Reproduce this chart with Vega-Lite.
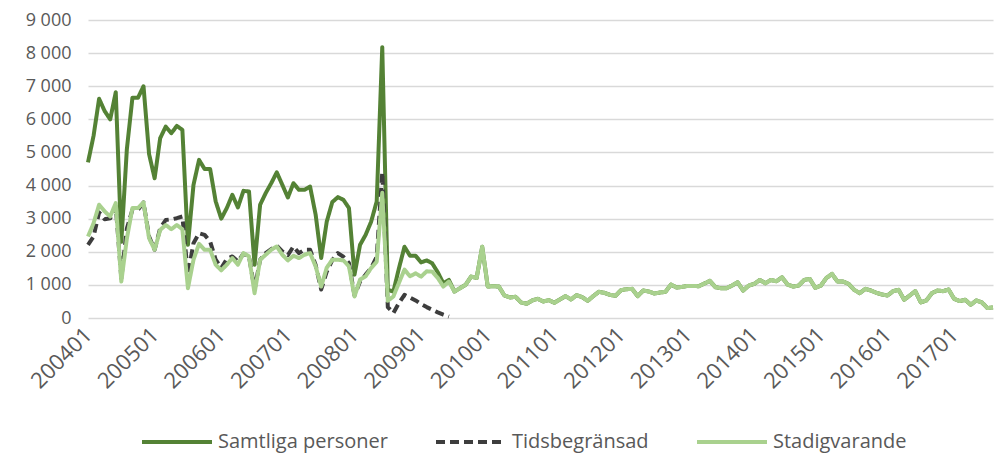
{
  "$schema": "https://vega.github.io/schema/vega-lite/v6.json",
  "width": 905,
  "height": 298,
  "autosize": "none",
  "padding": {"left": 88, "top": 20, "right": 1, "bottom": 138},
  "config": {
    "locale": {"number": {"decimal": ",", "thousands": " ", "grouping": [3], "currency": ["", " kr"]}},
    "view": {"stroke": null},
    "font": "Open Sans"
  },
  "datasets": {
    "wide": [
      {"m":"200401","Samtliga personer":4700,"Tidsbegränsad":2210,"Stadigvarande":2460},
      {"m":"200402","Samtliga personer":5500,"Tidsbegränsad":2460,"Stadigvarande":2860},
      {"m":"200403","Samtliga personer":6620,"Tidsbegränsad":3190,"Stadigvarande":3420},
      {"m":"200404","Samtliga personer":6250,"Tidsbegränsad":2980,"Stadigvarande":3220},
      {"m":"200405","Samtliga personer":6000,"Tidsbegränsad":3010,"Stadigvarande":3065},
      {"m":"200406","Samtliga personer":6820,"Tidsbegränsad":3370,"Stadigvarande":3470},
      {"m":"200407","Samtliga personer":2300,"Tidsbegränsad":1200,"Stadigvarande":1100},
      {"m":"200408","Samtliga personer":5100,"Tidsbegränsad":2700,"Stadigvarande":2400},
      {"m":"200409","Samtliga personer":6650,"Tidsbegränsad":3270,"Stadigvarande":3320},
      {"m":"200410","Samtliga personer":6650,"Tidsbegränsad":3270,"Stadigvarande":3320},
      {"m":"200411","Samtliga personer":7000,"Tidsbegränsad":3490,"Stadigvarande":3490},
      {"m":"200412","Samtliga personer":4950,"Tidsbegränsad":2460,"Stadigvarande":2410},
      {"m":"200501","Samtliga personer":4220,"Tidsbegränsad":2060,"Stadigvarande":2060},
      {"m":"200502","Samtliga personer":5430,"Tidsbegränsad":2710,"Stadigvarande":2660},
      {"m":"200503","Samtliga personer":5780,"Tidsbegränsad":2960,"Stadigvarande":2810},
      {"m":"200504","Samtliga personer":5580,"Tidsbegränsad":2980,"Stadigvarande":2680},
      {"m":"200505","Samtliga personer":5800,"Tidsbegränsad":3015,"Stadigvarande":2810},
      {"m":"200506","Samtliga personer":5680,"Tidsbegränsad":3065,"Stadigvarande":2680},
      {"m":"200507","Samtliga personer":2210,"Tidsbegränsad":1310,"Stadigvarande":900},
      {"m":"200508","Samtliga personer":4020,"Tidsbegränsad":2260,"Stadigvarande":1760},
      {"m":"200509","Samtliga personer":4775,"Tidsbegränsad":2560,"Stadigvarande":2240},
      {"m":"200510","Samtliga personer":4500,"Tidsbegränsad":2510,"Stadigvarande":2060},
      {"m":"200511","Samtliga personer":4500,"Tidsbegränsad":2310,"Stadigvarande":2060},
      {"m":"200512","Samtliga personer":3520,"Tidsbegränsad":1760,"Stadigvarande":1610},
      {"m":"200601","Samtliga personer":3000,"Tidsbegränsad":1510,"Stadigvarande":1440},
      {"m":"200602","Samtliga personer":3320,"Tidsbegränsad":1780,"Stadigvarande":1610},
      {"m":"200603","Samtliga personer":3720,"Tidsbegränsad":1860,"Stadigvarande":1810},
      {"m":"200604","Samtliga personer":3340,"Tidsbegränsad":1710,"Stadigvarande":1610},
      {"m":"200605","Samtliga personer":3840,"Tidsbegränsad":1940,"Stadigvarande":1960},
      {"m":"200606","Samtliga personer":3820,"Tidsbegränsad":1860,"Stadigvarande":1860},
      {"m":"200607","Samtliga personer":1610,"Tidsbegränsad":860,"Stadigvarande":750},
      {"m":"200608","Samtliga personer":3420,"Tidsbegränsad":1760,"Stadigvarande":1760},
      {"m":"200609","Samtliga personer":3770,"Tidsbegränsad":1960,"Stadigvarande":1910},
      {"m":"200610","Samtliga personer":4070,"Tidsbegränsad":2080,"Stadigvarande":2060},
      {"m":"200611","Samtliga personer":4400,"Tidsbegränsad":2180,"Stadigvarande":2160},
      {"m":"200612","Samtliga personer":4020,"Tidsbegränsad":2010,"Stadigvarande":1910},
      {"m":"200701","Samtliga personer":3640,"Tidsbegränsad":1900,"Stadigvarande":1740},
      {"m":"200702","Samtliga personer":4070,"Tidsbegränsad":2160,"Stadigvarande":1880},
      {"m":"200703","Samtliga personer":3870,"Tidsbegränsad":1960,"Stadigvarande":1810},
      {"m":"200704","Samtliga personer":3870,"Tidsbegränsad":2060,"Stadigvarande":1910},
      {"m":"200705","Samtliga personer":3970,"Tidsbegränsad":2060,"Stadigvarande":1960},
      {"m":"200706","Samtliga personer":3120,"Tidsbegränsad":1600,"Stadigvarande":1560},
      {"m":"200707","Samtliga personer":1810,"Tidsbegränsad":860,"Stadigvarande":950},
      {"m":"200708","Samtliga personer":2910,"Tidsbegränsad":1400,"Stadigvarande":1520},
      {"m":"200709","Samtliga personer":3500,"Tidsbegränsad":1750,"Stadigvarande":1760},
      {"m":"200710","Samtliga personer":3650,"Tidsbegränsad":1960,"Stadigvarande":1760},
      {"m":"200711","Samtliga personer":3570,"Tidsbegränsad":1850,"Stadigvarande":1740},
      {"m":"200712","Samtliga personer":3320,"Tidsbegränsad":1660,"Stadigvarande":1560},
      {"m":"200801","Samtliga personer":1310,"Tidsbegränsad":680,"Stadigvarande":650},
      {"m":"200802","Samtliga personer":2210,"Tidsbegränsad":1100,"Stadigvarande":1160},
      {"m":"200803","Samtliga personer":2510,"Tidsbegränsad":1310,"Stadigvarande":1260},
      {"m":"200804","Samtliga personer":2910,"Tidsbegränsad":1510,"Stadigvarande":1510},
      {"m":"200805","Samtliga personer":3520,"Tidsbegränsad":1850,"Stadigvarande":1700},
      {"m":"200806","Samtliga personer":8180,"Tidsbegränsad":4400,"Stadigvarande":3780},
      {"m":"200807","Samtliga personer":850,"Tidsbegränsad":330,"Stadigvarande":520},
      {"m":"200808","Samtliga personer":800,"Tidsbegränsad":150,"Stadigvarande":650},
      {"m":"200809","Samtliga personer":1500,"Tidsbegränsad":450,"Stadigvarande":1060},
      {"m":"200810","Samtliga personer":2150,"Tidsbegränsad":700,"Stadigvarande":1460},
      {"m":"200811","Samtliga personer":1880,"Tidsbegränsad":620,"Stadigvarande":1260},
      {"m":"200812","Samtliga personer":1880,"Tidsbegränsad":530,"Stadigvarande":1350},
      {"m":"200901","Samtliga personer":1680,"Tidsbegränsad":420,"Stadigvarande":1250},
      {"m":"200902","Samtliga personer":1740,"Tidsbegränsad":330,"Stadigvarande":1410},
      {"m":"200903","Samtliga personer":1650,"Tidsbegränsad":250,"Stadigvarande":1400},
      {"m":"200904","Samtliga personer":1380,"Tidsbegränsad":170,"Stadigvarande":1210},
      {"m":"200905","Samtliga personer":1050,"Tidsbegränsad":100,"Stadigvarande":950},
      {"m":"200906","Samtliga personer":1150,"Tidsbegränsad":40,"Stadigvarande":1100},
      {"m":"200907","Samtliga personer":800,"Tidsbegränsad":null,"Stadigvarande":800},
      {"m":"200908","Samtliga personer":900,"Tidsbegränsad":null,"Stadigvarande":900},
      {"m":"200909","Samtliga personer":1000,"Tidsbegränsad":null,"Stadigvarande":1000},
      {"m":"200910","Samtliga personer":1250,"Tidsbegränsad":null,"Stadigvarande":1250},
      {"m":"200911","Samtliga personer":1210,"Tidsbegränsad":null,"Stadigvarande":1210},
      {"m":"200912","Samtliga personer":2150,"Tidsbegränsad":null,"Stadigvarande":2150},
      {"m":"201001","Samtliga personer":950,"Tidsbegränsad":null,"Stadigvarande":950},
      {"m":"201002","Samtliga personer":960,"Tidsbegränsad":null,"Stadigvarande":960},
      {"m":"201003","Samtliga personer":950,"Tidsbegränsad":null,"Stadigvarande":950},
      {"m":"201004","Samtliga personer":680,"Tidsbegränsad":null,"Stadigvarande":680},
      {"m":"201005","Samtliga personer":620,"Tidsbegränsad":null,"Stadigvarande":620},
      {"m":"201006","Samtliga personer":640,"Tidsbegränsad":null,"Stadigvarande":640},
      {"m":"201007","Samtliga personer":470,"Tidsbegränsad":null,"Stadigvarande":470},
      {"m":"201008","Samtliga personer":430,"Tidsbegränsad":null,"Stadigvarande":430},
      {"m":"201009","Samtliga personer":530,"Tidsbegränsad":null,"Stadigvarande":530},
      {"m":"201010","Samtliga personer":580,"Tidsbegränsad":null,"Stadigvarande":580},
      {"m":"201011","Samtliga personer":500,"Tidsbegränsad":null,"Stadigvarande":500},
      {"m":"201012","Samtliga personer":540,"Tidsbegränsad":null,"Stadigvarande":540},
      {"m":"201101","Samtliga personer":460,"Tidsbegränsad":null,"Stadigvarande":460},
      {"m":"201102","Samtliga personer":560,"Tidsbegränsad":null,"Stadigvarande":560},
      {"m":"201103","Samtliga personer":660,"Tidsbegränsad":null,"Stadigvarande":660},
      {"m":"201104","Samtliga personer":560,"Tidsbegränsad":null,"Stadigvarande":560},
      {"m":"201105","Samtliga personer":690,"Tidsbegränsad":null,"Stadigvarande":690},
      {"m":"201106","Samtliga personer":630,"Tidsbegränsad":null,"Stadigvarande":630},
      {"m":"201107","Samtliga personer":520,"Tidsbegränsad":null,"Stadigvarande":520},
      {"m":"201108","Samtliga personer":660,"Tidsbegränsad":null,"Stadigvarande":660},
      {"m":"201109","Samtliga personer":790,"Tidsbegränsad":null,"Stadigvarande":790},
      {"m":"201110","Samtliga personer":760,"Tidsbegränsad":null,"Stadigvarande":760},
      {"m":"201111","Samtliga personer":700,"Tidsbegränsad":null,"Stadigvarande":700},
      {"m":"201112","Samtliga personer":670,"Tidsbegränsad":null,"Stadigvarande":670},
      {"m":"201201","Samtliga personer":840,"Tidsbegränsad":null,"Stadigvarande":840},
      {"m":"201202","Samtliga personer":870,"Tidsbegränsad":null,"Stadigvarande":870},
      {"m":"201203","Samtliga personer":880,"Tidsbegränsad":null,"Stadigvarande":880},
      {"m":"201204","Samtliga personer":660,"Tidsbegränsad":null,"Stadigvarande":660},
      {"m":"201205","Samtliga personer":830,"Tidsbegränsad":null,"Stadigvarande":830},
      {"m":"201206","Samtliga personer":800,"Tidsbegränsad":null,"Stadigvarande":800},
      {"m":"201207","Samtliga personer":740,"Tidsbegränsad":null,"Stadigvarande":740},
      {"m":"201208","Samtliga personer":770,"Tidsbegränsad":null,"Stadigvarande":770},
      {"m":"201209","Samtliga personer":790,"Tidsbegränsad":null,"Stadigvarande":790},
      {"m":"201210","Samtliga personer":1010,"Tidsbegränsad":null,"Stadigvarande":1010},
      {"m":"201211","Samtliga personer":920,"Tidsbegränsad":null,"Stadigvarande":920},
      {"m":"201212","Samtliga personer":940,"Tidsbegränsad":null,"Stadigvarande":940},
      {"m":"201301","Samtliga personer":970,"Tidsbegränsad":null,"Stadigvarande":970},
      {"m":"201302","Samtliga personer":970,"Tidsbegränsad":null,"Stadigvarande":970},
      {"m":"201303","Samtliga personer":960,"Tidsbegränsad":null,"Stadigvarande":960},
      {"m":"201304","Samtliga personer":1040,"Tidsbegränsad":null,"Stadigvarande":1040},
      {"m":"201305","Samtliga personer":1120,"Tidsbegränsad":null,"Stadigvarande":1120},
      {"m":"201306","Samtliga personer":930,"Tidsbegränsad":null,"Stadigvarande":930},
      {"m":"201307","Samtliga personer":900,"Tidsbegränsad":null,"Stadigvarande":900},
      {"m":"201308","Samtliga personer":900,"Tidsbegränsad":null,"Stadigvarande":900},
      {"m":"201309","Samtliga personer":980,"Tidsbegränsad":null,"Stadigvarande":980},
      {"m":"201310","Samtliga personer":1080,"Tidsbegränsad":null,"Stadigvarande":1080},
      {"m":"201311","Samtliga personer":830,"Tidsbegränsad":null,"Stadigvarande":830},
      {"m":"201312","Samtliga personer":980,"Tidsbegränsad":null,"Stadigvarande":980},
      {"m":"201401","Samtliga personer":1030,"Tidsbegränsad":null,"Stadigvarande":1030},
      {"m":"201402","Samtliga personer":1150,"Tidsbegränsad":null,"Stadigvarande":1150},
      {"m":"201403","Samtliga personer":1050,"Tidsbegränsad":null,"Stadigvarande":1050},
      {"m":"201404","Samtliga personer":1150,"Tidsbegränsad":null,"Stadigvarande":1150},
      {"m":"201405","Samtliga personer":1110,"Tidsbegränsad":null,"Stadigvarande":1110},
      {"m":"201406","Samtliga personer":1230,"Tidsbegränsad":null,"Stadigvarande":1230},
      {"m":"201407","Samtliga personer":1010,"Tidsbegränsad":null,"Stadigvarande":1010},
      {"m":"201408","Samtliga personer":950,"Tidsbegränsad":null,"Stadigvarande":950},
      {"m":"201409","Samtliga personer":980,"Tidsbegränsad":null,"Stadigvarande":980},
      {"m":"201410","Samtliga personer":1150,"Tidsbegränsad":null,"Stadigvarande":1150},
      {"m":"201411","Samtliga personer":1180,"Tidsbegränsad":null,"Stadigvarande":1180},
      {"m":"201412","Samtliga personer":910,"Tidsbegränsad":null,"Stadigvarande":910},
      {"m":"201501","Samtliga personer":980,"Tidsbegränsad":null,"Stadigvarande":980},
      {"m":"201502","Samtliga personer":1210,"Tidsbegränsad":null,"Stadigvarande":1210},
      {"m":"201503","Samtliga personer":1330,"Tidsbegränsad":null,"Stadigvarande":1330},
      {"m":"201504","Samtliga personer":1100,"Tidsbegränsad":null,"Stadigvarande":1100},
      {"m":"201505","Samtliga personer":1100,"Tidsbegränsad":null,"Stadigvarande":1100},
      {"m":"201506","Samtliga personer":1030,"Tidsbegränsad":null,"Stadigvarande":1030},
      {"m":"201507","Samtliga personer":850,"Tidsbegränsad":null,"Stadigvarande":850},
      {"m":"201508","Samtliga personer":750,"Tidsbegränsad":null,"Stadigvarande":750},
      {"m":"201509","Samtliga personer":880,"Tidsbegränsad":null,"Stadigvarande":880},
      {"m":"201510","Samtliga personer":830,"Tidsbegränsad":null,"Stadigvarande":830},
      {"m":"201511","Samtliga personer":760,"Tidsbegränsad":null,"Stadigvarande":760},
      {"m":"201512","Samtliga personer":710,"Tidsbegränsad":null,"Stadigvarande":710},
      {"m":"201601","Samtliga personer":680,"Tidsbegränsad":null,"Stadigvarande":680},
      {"m":"201602","Samtliga personer":810,"Tidsbegränsad":null,"Stadigvarande":810},
      {"m":"201603","Samtliga personer":850,"Tidsbegränsad":null,"Stadigvarande":850},
      {"m":"201604","Samtliga personer":550,"Tidsbegränsad":null,"Stadigvarande":550},
      {"m":"201605","Samtliga personer":680,"Tidsbegränsad":null,"Stadigvarande":680},
      {"m":"201606","Samtliga personer":810,"Tidsbegränsad":null,"Stadigvarande":810},
      {"m":"201607","Samtliga personer":470,"Tidsbegränsad":null,"Stadigvarande":470},
      {"m":"201608","Samtliga personer":530,"Tidsbegränsad":null,"Stadigvarande":530},
      {"m":"201609","Samtliga personer":750,"Tidsbegränsad":null,"Stadigvarande":750},
      {"m":"201610","Samtliga personer":830,"Tidsbegränsad":null,"Stadigvarande":830},
      {"m":"201611","Samtliga personer":810,"Tidsbegränsad":null,"Stadigvarande":810},
      {"m":"201612","Samtliga personer":860,"Tidsbegränsad":null,"Stadigvarande":860},
      {"m":"201701","Samtliga personer":580,"Tidsbegränsad":null,"Stadigvarande":580},
      {"m":"201702","Samtliga personer":510,"Tidsbegränsad":null,"Stadigvarande":510},
      {"m":"201703","Samtliga personer":550,"Tidsbegränsad":null,"Stadigvarande":550},
      {"m":"201704","Samtliga personer":400,"Tidsbegränsad":null,"Stadigvarande":400},
      {"m":"201705","Samtliga personer":530,"Tidsbegränsad":null,"Stadigvarande":530},
      {"m":"201706","Samtliga personer":470,"Tidsbegränsad":null,"Stadigvarande":470},
      {"m":"201707","Samtliga personer":300,"Tidsbegränsad":null,"Stadigvarande":300},
      {"m":"201708","Samtliga personer":320,"Tidsbegränsad":null,"Stadigvarande":320}
    ]
  },
  "data": {"name": "wide"},
  "transform": [
    {"fold": ["Samtliga personer", "Tidsbegränsad", "Stadigvarande"], "as": ["serie", "v"]}
  ],
  "mark": {"type": "line", "strokeJoin": "round"},
  "encoding": {
    "x": {
      "field": "m", "type": "ordinal", "sort": null,
      "scale": {"type": "point", "padding": 0},
      "axis": {
        "title": null,
        "labelExpr": "substring(datum.value, 4, 6) == '01' ? datum.value : ''",
        "labelAngle": -45, "labelAlign": "right", "labelBaseline": "middle",
        "labelFontSize": 22, "labelColor": "#595959",
        "labelOverlap": false, "labelFlush": false, "labelBound": false,
        "ticks": false, "domain": false, "grid": false, "labelPadding": 13
      }
    },
    "y": {
      "field": "v", "type": "quantitative",
      "scale": {"domain": [0, 9000], "nice": false},
      "axis": {
        "title": null,
        "values": [0,1000,2000,3000,4000,5000,6000,7000,8000,9000],
        "format": ",d", "labelFontSize": 18, "labelColor": "#595959",
        "ticks": false, "domain": false, "labelPadding": 17,
        "gridColor": "#d9d9d9", "gridWidth": 1.5
      }
    },
    "strokeWidth": {
      "field": "serie", "type": "nominal",
      "scale": {"domain": ["Samtliga personer", "Tidsbegränsad", "Stadigvarande"], "range": [4, 4, 4.6]},
      "legend": null
    },
    "color": {
      "field": "serie", "type": "nominal",
      "scale": {"domain": ["Samtliga personer", "Tidsbegränsad", "Stadigvarande"], "range": ["#548235", "#3d3d3d", "#a9d18e"]},
      "legend": {
        "title": null, "orient": "none", "legendX": 52, "legendY": 385, "direction": "horizontal",
        "labelFontSize": 20, "labelColor": "#595959", "labelLimit": 400,
        "symbolType": "stroke", "symbolSize": 4900, "symbolStrokeWidth": 4,
        "labelOffset": 4, "columnPadding": 40
      }
    },
    "strokeDash": {
      "field": "serie", "type": "nominal",
      "scale": {"domain": ["Samtliga personer", "Tidsbegränsad", "Stadigvarande"], "range": [[1, 0], [9, 5], [1, 0]]},
      "legend": {
        "title": null, "orient": "none", "legendX": 52, "legendY": 385, "direction": "horizontal",
        "labelFontSize": 20, "labelColor": "#595959", "labelLimit": 400,
        "symbolType": "stroke", "symbolSize": 4900, "symbolStrokeWidth": 4,
        "labelOffset": 4, "columnPadding": 40
      }
    }
  }
}
